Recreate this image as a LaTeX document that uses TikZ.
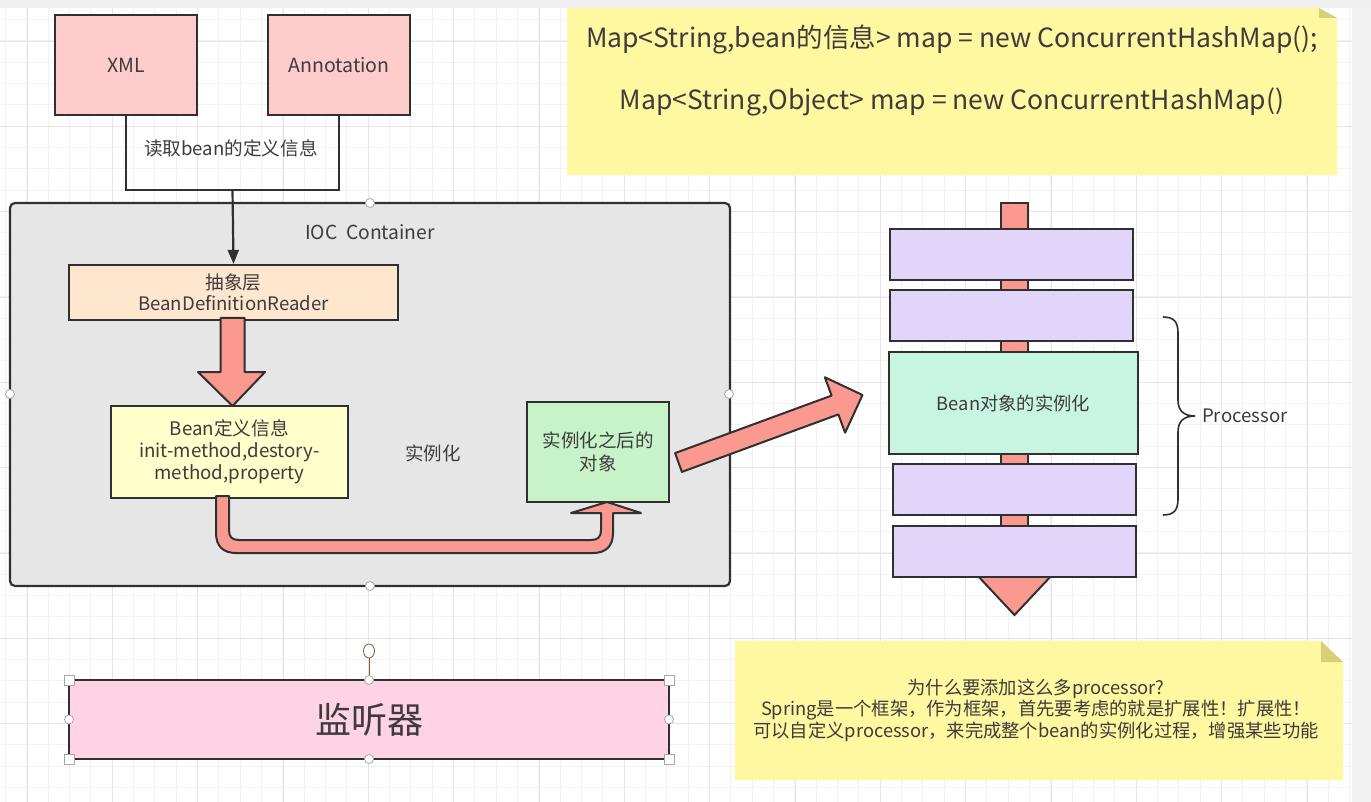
\documentclass[tikz,border=0pt]{standalone}
\usepackage{fontspec}
\setmainfont{Noto Sans CJK SC}
\usetikzlibrary{arrows.meta,calc}
\definecolor{lineC}{RGB}{48,48,48}
\definecolor{txtC}{RGB}{60,60,60}
\definecolor{pinkC}{RGB}{255,204,204}
\definecolor{peachC}{RGB}{255,230,206}
\definecolor{ylwC}{RGB}{255,255,204}
\definecolor{greenC}{RGB}{200,242,200}
\definecolor{mintC}{RGB}{200,245,226}
\definecolor{lavC}{RGB}{226,213,250}
\definecolor{salmonC}{RGB}{250,153,143}
\definecolor{contC}{RGB}{230,230,230}
\definecolor{noteC}{RGB}{255,248,160}
\definecolor{foldC}{RGB}{214,208,120}
\definecolor{lisC}{RGB}{255,210,228}
\definecolor{minorG}{RGB}{242,242,242}
\definecolor{majorG}{RGB}{230,230,230}
\begin{document}
\begin{tikzpicture}[x=1pt,y=-1pt,
  box/.style={draw=lineC, line width=2.2pt, inner sep=0pt, text=txtC, align=center},
  bigarrow/.style={draw=lineC, line width=2pt, fill=salmonC, line join=round},
  handle/.style={draw=gray!70, fill=white, line width=0.8pt},
  note/.style={fill=noteC},
  lbl/.style={text=txtC, inner sep=0pt, align=center}]
\useasboundingbox (0,0) rectangle (1371,802);
\fill[white] (0,0) rectangle (1371,802);
% grid
\foreach \i in {0,...,64} \draw[minorG, line width=0.8pt] ({5.3+\i*21.333},0) -- ({5.3+\i*21.333},802);
\foreach \i in {-1,...,36} \draw[minorG, line width=0.8pt] (0,{19.3+\i*21.333}) -- (1371,{19.3+\i*21.333});
\foreach \i in {0,...,15} \draw[majorG, line width=0.9pt] ({27+\i*85.333},0) -- ({27+\i*85.333},802);
\foreach \i in {0,...,8} \draw[majorG, line width=0.9pt] (0,{41+\i*85.333}) -- (1371,{41+\i*85.333});
\fill[gray!12] (0,0) rectangle (1371,8);
\fill[gray!10] (1352,8) rectangle (1371,802);

% top note
\fill[note] (567,8) -- (1319,8) -- (1337,18) -- (1337,175) -- (567,175) -- cycle;
\fill[foldC] (1319,8) -- (1319,18) -- (1337,18) -- cycle;
\node[lbl, font=\fontsize{26.5}{30}\selectfont] (map1) at (952,40) {Map<String,bean的信息> map = new ConcurrentHashMap();};
\node[lbl, font=\fontsize{26.5}{30}\selectfont] (map2) at (952,102) {Map<String,Object> map = new ConcurrentHashMap()};

% IOC container
\node[box, fill=contC, rounded corners=5pt, minimum width=720, minimum height=383] (ioc) at (370,394.5) {};
\node[lbl, font=\fontsize{19.3}{22}\selectfont] (iocT) at (370,232) {IOC\ \ Container};
\foreach \p in {(370,203),(10,394),(729,394),(370,586)} \draw[handle] \p circle (4.5);

% sources
\node[box, fill=pinkC, minimum width=142, minimum height=100, font=\fontsize{19.5}{22}\selectfont] (xml) at (126,65) {XML};
\node[box, fill=pinkC, minimum width=142, minimum height=100, font=\fontsize{19.5}{22}\selectfont] (ann) at (339,65) {Annotation};
\coordinate (j) at (232.5,190);
\draw[lineC, line width=2.2pt] (xml.south) |- (j) -| (ann.south);
\node[lbl, font=\fontsize{18.6}{22}\selectfont] (readLbl) at (231,148) {读取bean的定义信息};

% reader
\node[box, fill=peachC, minimum width=329, minimum height=55, font=\fontsize{18.6}{21}\selectfont] (bdr) at (233.5,292.5) {抽象层\\BeanDefinitionReader};
\draw[lineC, line width=2.2pt, -{Triangle[length=14pt,width=11pt]}] (j) -- (bdr.north);

% bean definition
\node[box, fill=ylwC, minimum width=237, minimum height=92, font=\fontsize{18.7}{22}\selectfont] (bdi) at (229.5,452) {Bean定义信息\\init-method,destory-\\method,property};
\node[lbl, font=\fontsize{18.5}{21}\selectfont] (inst) at (433,453) {实例化};
\node[box, fill=greenC, minimum width=142, minimum height=100, font=\fontsize{18.5}{23}\selectfont] (obj) at (598,452) {实例化之后的\\对象};

% down big arrow
\draw[bigarrow] (220.5,318) -- (244.5,318) -- (244.5,372) -- (265,372) -- (232.5,406) -- (198,372) -- (220.5,372) -- cycle;

% U arrow
\draw[bigarrow] (216,496) -- (216,533) .. controls (216,546) and (223,553) .. (236,553) -- (593,553) .. controls (606,553) and (613,546) .. (613,533) -- (613,513) -- (641,513) -- (607,502) -- (571,513) -- (601,513) -- (601,530) .. controls (601,537) and (598,540) .. (591,540) -- (239,540) .. controls (232,540) and (229,537) .. (229,530) -- (229,496) -- cycle;

% diagonal arrow
\draw[bigarrow] (675.1,453.1) -- (831.6,395.6) -- (824.9,377.3) -- (862.5,395) -- (845.1,432.7) -- (838.4,414.4) -- (681.9,471.9) -- cycle;

% processor column
\draw[bigarrow, line join=miter] (977,575) -- (1052,575) -- (1014.5,615) -- cycle;
\draw[draw=lineC, line width=2pt, fill=salmonC] (1001,203) rectangle (1028,560);
\node[box, fill=lavC, minimum width=243, minimum height=51] (p1) at (1011.5,254.5) {};
\node[box, fill=lavC, minimum width=243, minimum height=51] (p2) at (1011.5,315.5) {};
\node[box, fill=mintC, minimum width=249, minimum height=102, font=\fontsize{18.3}{21}\selectfont] (bi) at (1013.5,403) {Bean对象的实例化};
\node[box, fill=lavC, minimum width=243, minimum height=51] (p4) at (1014.5,489.5) {};
\node[box, fill=lavC, minimum width=243, minimum height=51] (p5) at (1014.5,551.5) {};
\draw[lineC, line width=1.6pt] (1163,317) .. controls (1174,317) and (1178,322) .. (1178,333) -- (1178,400) .. controls (1178,410) and (1183,416) .. (1195,416) .. controls (1183,416) and (1178,422) .. (1178,432) -- (1178,499) .. controls (1178,510) and (1174,515) .. (1163,515);
\node[lbl, font=\fontsize{18.6}{22}\selectfont, anchor=west] (proc) at (1202,416) {Processor};

% bottom note
\fill[note] (735,641) -- (1321,641) -- (1343,662) -- (1343,780) -- (735,780) -- cycle;
\fill[foldC] (1321,641) -- (1321,662) -- (1343,662) -- cycle;
\node[lbl, font=\fontsize{18.3}{21.5}\selectfont] (why) at (1036,710) {为什么要添加这么多processor?\\Spring是一个框架，作为框架，首先要考虑的就是扩展性！扩展性！\\可以自定义processor，来完成整个bean的实例化过程，增强某些功能};

% listener
\draw[draw=brown!70!black, line width=1pt] (369,657) -- (369,680);
\draw[handle, draw=brown!70!black] (369,651) ellipse (5.5 and 7);
\node[box, fill=lisC, minimum width=600, minimum height=79, font=\fontsize{36}{40}\selectfont] (lis) at (369,719.5) {监听器};
\foreach \p in {(69,680),(669,680),(69,759),(669,759)} \draw[handle] \p ++(-5,-5) rectangle ++(10,10);
\foreach \p in {(369,680),(69,719.5),(669,719.5),(369,759)} \draw[handle] \p circle (4.5);
\end{tikzpicture}
\end{document}
